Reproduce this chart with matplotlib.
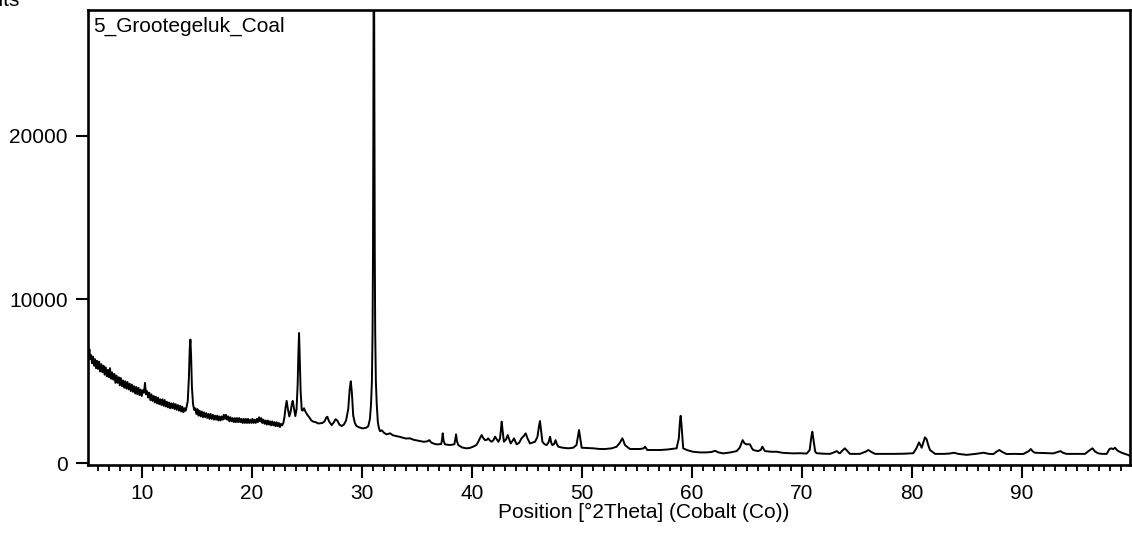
import matplotlib
matplotlib.use("Agg")
import matplotlib.pyplot as plt
from matplotlib.ticker import MultipleLocator, FixedLocator

plt.rcParams['font.family'] = ['Liberation Sans', 'DejaVu Sans']

# ---- data (2theta in degrees, counts) ----
two_theta = [
    5.09, 5.15, 5.22, 5.30, 5.38, 5.46, 5.55, 5.64, 5.73, 5.82, 5.91, 6.00, 6.10, 6.20, 6.30, 6.40,
    6.50, 6.60, 6.70, 6.80, 6.90, 7.00, 7.09, 7.18, 7.28, 7.38, 7.48, 7.58, 7.68, 7.78, 7.88, 7.98,
    8.08, 8.18, 8.28, 8.38, 8.48, 8.58, 8.68, 8.78, 8.88, 8.98, 9.08, 9.18, 9.28, 9.38, 9.48, 9.58,
    9.68, 9.78, 9.88, 9.98, 10.08, 10.18, 10.27, 10.36, 10.46, 10.56, 10.66, 10.76, 10.86, 10.96,
    11.06, 11.16, 11.26, 11.36, 11.46, 11.56, 11.66, 11.76, 11.86, 11.96, 12.06, 12.16, 12.26, 12.36,
    12.46, 12.56, 12.66, 12.76, 12.86, 12.96, 13.06, 13.16, 13.26, 13.36, 13.46, 13.56, 13.66, 13.76,
    13.86, 13.96, 14.06, 14.16, 14.26, 14.34, 14.40, 14.46, 14.54, 14.64, 14.74, 14.84, 14.94, 15.04,
    15.14, 15.24, 15.34, 15.44, 15.54, 15.64, 15.74, 15.84, 15.94, 16.04, 16.14, 16.24, 16.34, 16.44,
    16.54, 16.64, 16.74, 16.84, 16.94, 17.04, 17.14, 17.24, 17.34, 17.44, 17.54, 17.64, 17.74, 17.84,
    17.94, 18.04, 18.14, 18.24, 18.34, 18.44, 18.54, 18.64, 18.74, 18.84, 18.94, 19.04, 19.14, 19.24,
    19.34, 19.44, 19.54, 19.64, 19.74, 19.84, 19.94, 20.04, 20.14, 20.24, 20.34, 20.44, 20.54, 20.64,
    20.74, 20.84, 20.94, 21.04, 21.14, 21.24, 21.34, 21.44, 21.54, 21.64, 21.74, 21.84, 21.94, 22.04,
    22.14, 22.24, 22.34, 22.44, 22.54, 22.64, 22.74,
    22.85, 22.95, 23.05, 23.15, 23.25, 23.39, 23.50, 23.62, 23.70, 23.80, 23.94, 24.05, 24.15, 24.22,
    24.28, 24.34, 24.42, 24.52, 24.60, 24.73, 24.85, 25.03, 25.20, 25.40, 25.57, 25.80, 26.00, 26.18,
    26.40, 26.60, 26.75, 26.85, 27.00, 27.24, 27.45, 27.60, 27.75, 27.95, 28.15, 28.35, 28.55, 28.75,
    28.88, 28.98, 29.08, 29.20, 29.35, 29.50, 29.75, 30.00, 30.12, 30.35, 30.57,
    30.72, 30.82, 30.90, 30.96, 31.00, 31.03, 31.06, 31.08, 31.10, 31.13, 31.16, 31.20, 31.26, 31.34,
    31.44, 31.55, 31.64, 31.80, 32.00, 32.24, 32.55, 32.80, 33.10, 33.45, 33.70, 34.00, 34.36, 34.70,
    35.00, 35.27, 35.60, 35.90, 36.12, 36.30, 36.55, 36.80,
    37.20, 37.28, 37.34, 37.42, 37.55, 37.80, 38.00, 38.40, 38.48, 38.55, 38.63, 38.75, 39.10, 39.50,
    39.80, 40.10, 40.40, 40.57, 40.75, 40.88, 41.00, 41.18, 41.35, 41.48, 41.62, 41.79, 41.95, 42.10,
    42.25, 42.40, 42.55, 42.65, 42.70, 42.78, 42.90, 43.10, 43.25, 43.38, 43.52, 43.68, 43.82, 43.95,
    44.06, 44.30, 44.50, 44.70, 44.88, 45.05, 45.27, 45.50, 45.73, 45.95, 46.10, 46.18, 46.26, 46.40,
    46.60, 46.79, 46.95, 47.10, 47.20, 47.30, 47.45, 47.60, 47.72, 47.85, 48.20, 48.75, 49.20, 49.50,
    49.65, 49.73, 49.82, 49.97, 50.50, 51.03, 51.60, 52.10, 52.70, 53.15, 53.45, 53.67, 53.80, 53.90,
    54.36, 54.80, 55.27, 55.60, 55.73, 55.85, 55.94, 56.50, 57.10, 57.80, 58.60, 58.80, 58.90, 58.97,
    59.05, 59.20, 59.60, 60.10, 60.70, 61.34, 61.80, 62.10, 62.40, 62.85, 63.50, 64.06, 64.35, 64.60,
    64.78, 64.97, 65.15, 65.27, 65.45, 65.57, 66.00, 66.25, 66.40, 66.52, 66.64, 67.20, 67.70, 68.30,
    69.20, 69.80, 70.43, 70.70, 70.85, 70.94, 71.05, 71.20, 71.33, 72.00, 72.55, 72.90, 73.15, 73.35,
    73.45, 73.70, 73.90, 74.10, 74.36, 75.27, 75.80, 76.03, 76.30, 76.64, 77.50, 78.30, 79.30, 80.12,
    80.40, 80.64, 80.80, 80.88, 81.05, 81.18, 81.33, 81.50, 81.64, 82.10, 83.00, 83.50, 83.82, 84.20,
    84.97, 85.80, 86.50, 87.00, 87.40, 87.70, 87.94, 88.20, 88.60, 89.30, 90.10, 90.60, 90.80, 91.00,
    91.18, 92.00, 92.85, 93.25, 93.50, 93.75, 94.06, 95.00, 95.73, 96.15, 96.40, 96.65, 96.94, 97.30,
    97.70, 97.95, 98.10, 98.30, 98.45, 98.70, 99.06, 99.40, 99.66, 99.82,
]
counts = [
    7000, 6650, 6950, 6350, 6600, 6100, 6500, 5950, 6350, 5800, 6250, 5750, 6200, 5600, 6050, 5550,
    5950, 5400, 5850, 5300, 5700, 5250, 5800, 5150, 5550, 5100, 5450, 4900, 5350, 4900, 5250, 4750,
    5200, 4700, 5050, 4600, 5000, 4550, 4950, 4500, 4850, 4400, 4800, 4350, 4700, 4250, 4650, 4200,
    4600, 4150, 4500, 4100, 4450, 4300, 4900, 4200, 4400, 4000, 4300, 3850, 4200, 3800,
    4100, 3700, 4050, 3650, 4000, 3600, 3900, 3550, 3900, 3500, 3850, 3450, 3750, 3400,
    3700, 3350, 3650, 3350, 3650, 3300, 3600, 3250, 3550, 3200, 3500, 3150, 3450, 3100,
    3350, 3200, 3450, 3800, 5200, 7000, 7550, 6600, 4600, 3600, 3250, 3350, 3000, 3300,
    2900, 3200, 2850, 3150, 2800, 3100, 2800, 3050, 2750, 3000, 2700, 3000, 2700, 2950,
    2650, 2900, 2650, 2900, 2600, 2850, 2600, 2850, 2650, 2950, 2700, 2950, 2650, 2850,
    2550, 2800, 2550, 2750, 2500, 2750, 2500, 2750, 2500, 2750, 2500, 2700, 2450, 2700,
    2450, 2700, 2450, 2700, 2450, 2650, 2450, 2700, 2450, 2650, 2450, 2700, 2500, 2800,
    2550, 2750, 2450, 2650, 2400, 2600, 2350, 2600, 2350, 2550, 2300, 2550, 2300, 2500,
    2250, 2500, 2250, 2450, 2200, 2400, 2300,
    2450, 2800, 3400, 3800, 3350, 2850, 3100, 3600, 3800, 3400, 2870, 3300, 4800, 6800,
    7950, 6500, 4400, 3250, 3200, 3350, 3150, 2950, 2800, 2600, 2530, 2500, 2420, 2430,
    2450, 2550, 2780, 2830, 2550, 2320, 2500, 2680, 2600, 2350, 2260, 2350, 2600, 3300,
    4500, 5000, 4300, 2900, 2450, 2260, 2180, 2130, 2120, 2150, 2250,
    2700, 3600, 5000, 8000, 13000, 20000, 30000, 45000, 30000, 20000, 13000, 8000, 5000, 3600,
    2500, 2100, 1950, 2000, 1850, 1750, 1820, 1700, 1650, 1600, 1550, 1500, 1510, 1420,
    1380, 1345, 1300, 1320, 1400, 1250, 1180, 1140,
    1160, 1450, 1815, 1350, 1140, 1120, 1100, 1150, 1450, 1755, 1350, 1100, 950, 900,
    920, 1000, 1100, 1300, 1550, 1710, 1550, 1400, 1420, 1510, 1380, 1300, 1400, 1610,
    1450, 1300, 1500, 2200, 2530, 2000, 1300, 1450, 1710, 1450, 1200, 1350, 1510, 1300,
    1140, 1250, 1510, 1650, 1815, 1500, 1200, 1250, 1300, 1600, 2300, 2570, 2100, 1300,
    1150, 1100, 1250, 1610, 1250, 1100, 1150, 1400, 1150, 1000, 940, 900, 935, 1100,
    1700, 2020, 1600, 935, 920, 900, 860, 856, 900, 1000, 1250, 1510, 1300, 1100,
    856, 860, 856, 900, 1000, 880, 795, 800, 795, 830, 900, 1500, 2500, 2890,
    2300, 900, 780, 690, 650, 650, 680, 750, 650, 590, 650, 730, 950, 1400,
    1200, 1140, 1150, 1140, 900, 795, 730, 800, 1000, 850, 730, 690, 690, 620,
    590, 600, 580, 800, 1600, 1915, 1400, 700, 600, 570, 560, 650, 730, 620,
    600, 780, 900, 750, 560, 560, 700, 795, 680, 560, 560, 560, 570, 600,
    900, 1265, 1050, 935, 1300, 1570, 1450, 1050, 795, 560, 560, 590, 630, 560,
    500, 560, 630, 560, 550, 700, 795, 680, 550, 560, 550, 720, 856, 700,
    630, 610, 590, 680, 730, 620, 560, 560, 560, 780, 900, 700, 590, 560,
    560, 850, 900, 850, 935, 750, 630, 550, 490, 430,
]

x_major = [10, 20, 30, 40, 50, 60, 70, 80, 90]
y_major = [0, 10000, 20000]
sample_name = "5_Grootegeluk_Coal"
x_label = "Position [°2Theta] (Cobalt (Co))"
y_label = "Counts"

# ---- figure ----
W, H = 1132, 536
fig = plt.figure(figsize=(W / 100, H / 100), dpi=100)
ax = fig.add_axes([88 / W, 1 - 465 / H, (1130 - 88) / W, (465 - 10) / H])

ax.plot(two_theta, counts, color='black', lw=1.4, solid_joinstyle='round')

ax.set_xlim(5.09, 99.82)
ax.set_ylim(-120, 27700)

ax.xaxis.set_major_locator(FixedLocator(x_major))
ax.xaxis.set_minor_locator(MultipleLocator(1))
ax.yaxis.set_major_locator(FixedLocator(y_major))

for s in ax.spines.values():
    s.set_linewidth(1.9)

ax.tick_params(axis='x', which='major', length=9.5, width=1.5, direction='out',
               labelsize=15, pad=4)
ax.tick_params(axis='x', which='minor', length=4.5, width=1.3, direction='out')
ax.tick_params(axis='y', which='major', length=8.5, width=1.5, direction='out',
               labelsize=15, pad=6)

ax.set_xlabel(x_label, fontsize=15)
ax.xaxis.set_label_coords(0.533, -0.084)

ax.text(0.0048, 0.9516, sample_name, transform=ax.transAxes, fontsize=15,
        ha='left', va='baseline')
fig.text(19 / W, 1 - 6 / H, y_label, fontsize=15, ha='right', va='baseline')

fig.savefig("out.png", dpi=100)
